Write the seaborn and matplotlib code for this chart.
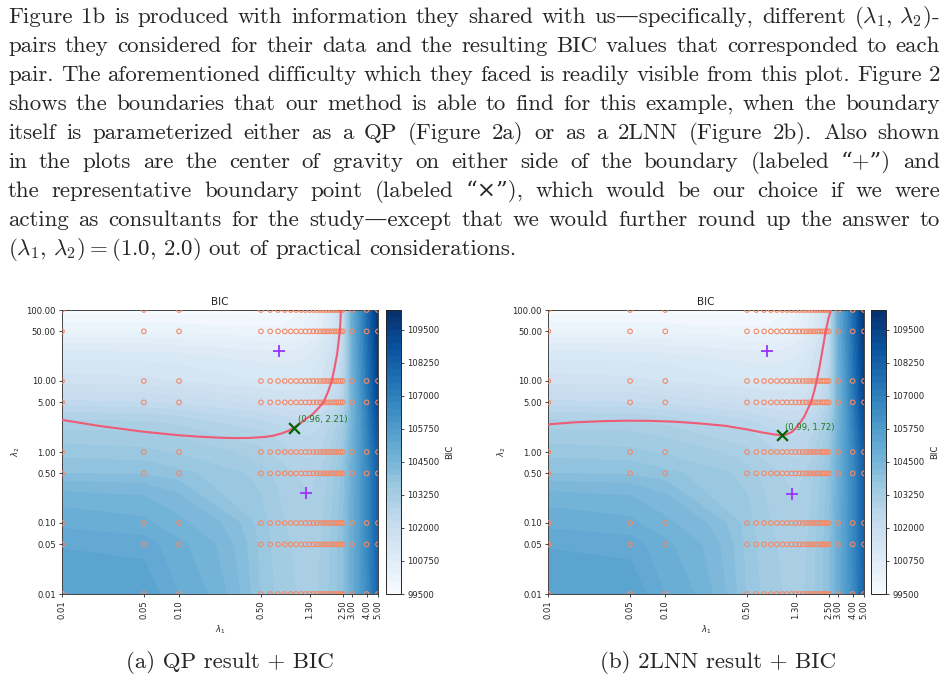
import numpy as np
import pandas as pd
import seaborn as sns
import matplotlib.pyplot as plt
from matplotlib.transforms import IdentityTransform
from matplotlib.ticker import FixedLocator, NullLocator, FormatStrFormatter

# (lambda1, lambda2) pairs that were tried
lam1 = [0.01, 0.05, 0.1, 0.5, 0.6, 0.7, 0.8, 0.9, 1.0, 1.1, 1.2, 1.3, 1.4, 1.5,
        1.6, 1.7, 1.8, 1.9, 2.0, 2.1, 2.2, 2.3, 2.4, 2.5, 3.0, 4.0, 5.0]
lam2 = [0.01, 0.05, 0.1, 0.5, 1.0, 5.0, 10.0, 50.0, 100.0]

# BIC for each lambda2 row (columns follow lam1)
bic_y0_01 = [105500, 105400, 105000, 103700, 103550, 103450, 103350, 103300, 103250, 103200, 103180, 103160, 103180, 103220,
             103280, 103350, 103420, 103500, 103580, 103650, 103720, 103800, 103880, 103950, 104900, 106400, 108000]
bic_y0_05 = [105200, 105100, 104800, 103650, 103500, 103400, 103300, 103250, 103200, 103150, 103120, 103100, 103120, 103170,
             103230, 103300, 103380, 103460, 103540, 103620, 103700, 103780, 103860, 103940, 104900, 106500, 108100]
bic_y0_1 = [104900, 104800, 104550, 103600, 103450, 103350, 103250, 103200, 103150, 103100, 103070, 103050, 103070, 103120,
            103180, 103250, 103330, 103420, 103500, 103590, 103680, 103760, 103850, 103930, 104900, 106500, 108200]
bic_y0_5 = [104000, 103950, 103800, 103350, 103250, 103150, 103080, 103020, 102980, 102950, 102930, 102920, 102940, 102980,
            103030, 103100, 103180, 103260, 103350, 103440, 103530, 103620, 103710, 103800, 104800, 106500, 108200]
bic_y1 = [103600, 103550, 103450, 103050, 102950, 102870, 102800, 102750, 102710, 102680, 102660, 102650, 102670, 102710,
          102760, 102830, 102910, 103000, 103090, 103180, 103280, 103380, 103480, 103600, 104700, 106600, 108400]
bic_y5 = [102300, 102250, 102150, 101850, 101800, 101760, 101730, 101710, 101700, 101700, 101710, 101730, 101760, 101800,
          101850, 101910, 101980, 102060, 102150, 102250, 102360, 102480, 102600, 102750, 104500, 107000, 109300]
bic_y10 = [101600, 101550, 101480, 101250, 101220, 101200, 101190, 101190, 101200, 101220, 101250, 101290, 101340, 101400,
           101470, 101550, 101640, 101740, 101850, 101970, 102100, 102240, 102390, 102550, 104600, 107200, 109500]
bic_y50 = [100200, 100180, 100150, 100050, 100060, 100080, 100110, 100150, 100200, 100260, 100330, 100410, 100500, 100600,
           100710, 100830, 100960, 101100, 101250, 101410, 101580, 101760, 101950, 102150, 104800, 107500, 109800]
bic_y100 = [99600, 99600, 99600, 99620, 99650, 99690, 99740, 99800, 99870, 99950, 100040, 100140, 100250, 100370,
            100500, 100640, 100790, 100950, 101120, 101300, 101490, 101690, 101900, 102120, 104900, 107600, 110000]

# fitted boundaries
qp_l1 = [0.01, 0.0204, 0.0496, 0.1, 0.15, 0.224, 0.3, 0.4, 0.543, 0.65, 0.755, 0.86, 0.96,
         1.1, 1.2, 1.36, 1.52, 1.71, 1.87, 2.02, 2.12, 2.23, 2.3, 2.36, 2.39, 2.41]
qp_l2 = [2.83, 2.34, 1.93, 1.72, 1.64, 1.59, 1.57, 1.58, 1.63, 1.71, 1.83, 1.99, 2.21,
         2.58, 2.9, 3.32, 4.0, 5.0, 7.0, 10.2, 15.0, 23.2, 35.0, 50.0, 70.0, 100.0]
nn_l1 = [0.01, 0.0169, 0.03, 0.0453, 0.07, 0.121, 0.2, 0.324, 0.5, 0.667, 0.867, 0.99, 1.08,
         1.2, 1.3, 1.45, 1.55, 1.65, 1.76, 1.87, 1.97, 2.07, 2.17, 2.35, 2.48, 2.61]
nn_l2 = [2.45, 2.62, 2.72, 2.76, 2.75, 2.67, 2.52, 2.34, 2.08, 1.89, 1.76, 1.72, 1.76,
         1.9, 2.15, 2.7, 3.2, 4.0, 5.0, 7.0, 10.0, 15.0, 23.0, 50.0, 75.0, 100.0]

# centers of gravity and representative boundary points
qp_cg_l1 = [0.72, 1.22]
qp_cg_l2 = [26.4, 0.267]
nn_cg_l1 = [0.74, 1.20]
nn_cg_l2 = [26.4, 0.254]
qp_rep = (0.96, 2.21)
nn_rep = (0.99, 1.72)

x_ticks = [0.01, 0.05, 0.1, 0.5, 1.3, 2.5, 3.0, 4.0, 5.0]
y_ticks = [0.01, 0.05, 0.1, 0.5, 1.0, 5.0, 10.0, 50.0, 100.0]
cbar_ticks = [99500, 100750, 102000, 103250, 104500, 105750, 107000, 108250, 109500]

paragraph = [
    r"Figure 1b is produced with information they shared with us—specifically, different $(\lambda_1,\,\lambda_2)$-",
    "pairs they considered for their data and the resulting BIC values that corresponded to each",
    "pair. The aforementioned difficulty which they faced is readily visible from this plot. Figure 2",
    "shows the boundaries that our method is able to find for this example, when the boundary",
    "itself is parameterized either as a QP (Figure 2a) or as a 2LNN (Figure 2b). Also shown",
    "in the plots are the center of gravity on either side of the boundary (labeled “+”) and",
    "the representative boundary point (labeled “×”), which would be our choice if we were",
    "acting as consultants for the study—except that we would further round up the answer to",
    r"$(\lambda_1,\,\lambda_2)=(1.0,\,2.0)$ out of practical considerations.",
]
captions = ["(a) QP result + BIC", "(b) 2LNN result + BIC"]

W, H = 947, 681
sns.set_style("ticks")
plt.rcParams["font.family"] = ["DejaVu Sans"]

g1, g2 = np.meshgrid(lam1, lam2)
bic = np.array([bic_y0_01, bic_y0_05, bic_y0_1, bic_y0_5, bic_y1, bic_y5, bic_y10, bic_y50, bic_y100])
grid_df = pd.DataFrame({"lam1": g1.ravel(), "lam2": g2.ravel()})
levels = np.arange(99500, 110251, 250)

fig = plt.figure(figsize=(W / 100, H / 100), dpi=100)


def px(l, b, w, h):
    return [l / W, b / H, w / W, h / H]


panels = [
    (px(62, 87, 316, 284), px(386, 87, 15, 284), qp_l1, qp_l2, qp_cg_l1, qp_cg_l2, qp_rep, 230),
    (px(548.3, 87, 315.7, 284), px(871, 87, 15, 284), nn_l1, nn_l2, nn_cg_l1, nn_cg_l2, nn_rep, 718),
]

fs_small = 6.1
for i, (pos, cpos, c1, c2, cg1, cg2, rep, capx) in enumerate(panels):
    ax = fig.add_axes(pos)
    cax = fig.add_axes(cpos)
    ax.set_xscale("log")
    ax.set_yscale("log")
    cf = ax.contourf(g1, g2, bic, levels=levels, cmap="Blues", zorder=1)
    sns.scatterplot(data=grid_df, x="lam1", y="lam2", marker="o", s=11, facecolor="none",
                    edgecolor="#f28a68", linewidth=0.8, legend=False, ax=ax, zorder=3)
    sns.lineplot(x=c1, y=c2, sort=False, estimator=None, color="#ef5a74", linewidth=1.5, ax=ax, zorder=4)
    sns.scatterplot(x=cg1, y=cg2, marker="+", s=70, color="#9933ff", linewidth=1.3, ax=ax, zorder=5)
    sns.scatterplot(x=[rep[0]], y=[rep[1]], marker="x", s=60, color="darkgreen", linewidth=1.6, ax=ax, zorder=5)
    ax.annotate(f"({rep[0]:.2f}, {rep[1]:.2f})", xy=rep, xytext=(2.5, 2.5), textcoords="offset points",
                ha="left", va="bottom", color="#1e7a1e", fontsize=fs_small, zorder=6)
    ax.set_xlim(0.01, 5)
    ax.set_ylim(0.01, 100)
    ax.xaxis.set_major_locator(FixedLocator(x_ticks))
    ax.yaxis.set_major_locator(FixedLocator(y_ticks))
    ax.xaxis.set_minor_locator(NullLocator())
    ax.yaxis.set_minor_locator(NullLocator())
    ax.xaxis.set_major_formatter(FormatStrFormatter("%.2f"))
    ax.yaxis.set_major_formatter(FormatStrFormatter("%.2f"))
    ax.tick_params(labelsize=fs_small, length=2.5, width=0.6, pad=2)
    ax.tick_params(axis="x", labelrotation=90)
    for s in ax.spines.values():
        s.set_linewidth(0.7)
        s.set_color("#444444")
    ax.set_title("BIC", fontsize=7.5, pad=3.5)
    ax.set_xlabel(r"$\lambda_1$", fontsize=fs_small, labelpad=3)
    ax.set_ylabel(r"$\lambda_2$", fontsize=fs_small, labelpad=3)

    cb = fig.colorbar(cf, cax=cax)
    cb.set_ticks(cbar_ticks)
    cb.ax.yaxis.set_major_formatter(FormatStrFormatter("%d"))
    cb.ax.yaxis.set_minor_locator(NullLocator())
    cb.ax.tick_params(labelsize=fs_small, length=2.5, width=0.6, pad=2)
    cb.outline.set_linewidth(0.7)
    cb.set_label("BIC", fontsize=fs_small, labelpad=4)

# paragraph of body text, justified between X0 and X1
renderer = fig.canvas.get_renderer()
txt_kw = dict(family=["cmr10", "DejaVu Serif"], math_fontfamily="cm",
              transform=IdentityTransform(), ha="left", va="baseline")
X0, X1 = 8, 940


def widths(words, fs):
    out = []
    for w in words:
        t = fig.text(0, 0, w, fontsize=fs, **txt_kw)
        out.append(t.get_window_extent(renderer).width)
        t.remove()
    return out


fs = 17.4
word_lines = [ln.split(" ") for ln in paragraph]
space = lambda f: 0.30 * f * 100 / 72
need = max(sum(widths(wl, fs)) + (len(wl) - 1) * space(fs) for wl in word_lines[:-1])
if need > X1 - X0:
    fs *= (X1 - X0) / need

for k, wl in enumerate(word_lines):
    ws = widths(wl, fs)
    if k < len(word_lines) - 1:
        gap = (X1 - X0 - sum(ws)) / (len(wl) - 1)
    else:
        gap = 0.333 * fs * 100 / 72
    x = X0
    y = H - (23 + 29 * k)
    for w, wd in zip(wl, ws):
        fig.text(x, y, w, fontsize=fs, **txt_kw)
        x += wd + gap

for cap, (*_, capx) in zip(captions, panels):
    kw = dict(txt_kw, ha="center")
    fig.text(capx, H - 668, cap, fontsize=fs, **kw)

fig.savefig("out.png", dpi=100)
